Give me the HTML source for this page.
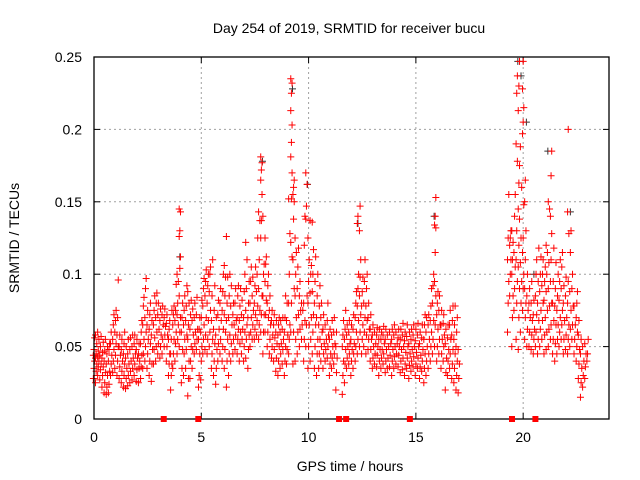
<!DOCTYPE html>
<html><head><meta charset="utf-8"><style>
body{margin:0;background:#fff}
svg{display:block;font-family:"Liberation Sans",sans-serif}
</style></head><body>
<svg id="c" width="640" height="480" xmlns="http://www.w3.org/2000/svg">
<rect width="640" height="480" fill="#fff"/>
<text x="349" y="33" font-size="14" text-anchor="middle">Day 254 of 2019, SRMTID for receiver bucu</text>
<text transform="translate(19,238) rotate(-90)" font-size="14" text-anchor="middle">SRMTID / TECUs</text>
<text x="350" y="471" font-size="14" text-anchor="middle">GPS time / hours</text>
<g id="grid"></g>
<g id="ticks"></g>
<g id="pts"></g>
<rect x="94" y="57" width="515" height="362" fill="none" stroke="#000" stroke-width="1.3"/>
</svg>
<script>
const xTicks=[0,5,10,15,20];
const yTicks=[0,0.05,0.1,0.15,0.2,0.25];
const yTickLabels=["0","0.05","0.1","0.15","0.2","0.25"];
const markerHours=[3.25,4.86,11.42,11.75,14.72,19.48,20.57];
const binTimes=[0.0,0.1,0.2,0.3,0.4,0.5,0.6,0.7,0.8,0.9,1.0,1.1,1.2,1.3,1.4,1.5,1.6,1.7,1.8,1.9,2.0,2.1,2.2,2.3,2.4,2.5,2.6,2.7,2.8,2.9,3.0,3.1,3.2,3.3,3.4,3.5,3.6,3.7,3.8,3.9,4.0,4.1,4.2,4.3,4.4,4.5,4.6,4.7,4.8,4.9,5.0,5.1,5.2,5.3,5.4,5.5,5.6,5.7,5.8,5.9,6.0,6.1,6.2,6.3,6.4,6.5,6.6,6.7,6.8,6.9,7.0,7.1,7.2,7.3,7.4,7.5,7.6,7.7,7.8,7.9,8.0,8.1,8.2,8.3,8.4,8.5,8.6,8.7,8.8,8.9,9.0,9.1,9.2,9.3,9.4,9.5,9.6,9.7,9.8,9.9,10.0,10.1,10.2,10.3,10.4,10.5,10.6,10.7,10.8,10.9,11.0,11.1,11.2,11.3,11.6,11.7,11.8,11.9,12.0,12.1,12.2,12.3,12.4,12.5,12.6,12.7,12.8,12.9,13.0,13.1,13.2,13.3,13.4,13.5,13.6,13.7,13.8,13.9,14.0,14.1,14.2,14.3,14.4,14.5,14.6,14.7,14.8,14.9,15.0,15.1,15.2,15.3,15.4,15.5,15.6,15.7,15.8,15.9,16.0,16.1,16.2,16.3,16.4,16.5,16.6,16.7,16.8,16.9,17.0,19.3,19.4,19.5,19.6,19.7,19.8,19.9,20.0,20.1,20.2,20.3,20.4,20.5,20.6,20.7,20.8,20.9,21.0,21.1,21.2,21.3,21.4,21.5,21.6,21.7,21.8,21.9,22.0,22.1,22.2,22.3,22.4,22.5,22.6,22.7,22.8,22.9,23.0];
const binValues=[
[28,35,40,44,48,56],[25,33,38,42,45,52,58],[30,36,40,43,47,55,60],[27,34,38,44,50,57],[22,30,36,42,46,53],[18,25,32,40,47,55],[17,22,30,38,45,50],[18,24,33,40,48,52],[30,38,44,52,60],[32,40,48,55,65,72],
[35,44,52,60,68,75],[30,40,50,58,70,96],[28,36,44,50,58],[25,33,40,48,55],[22,30,38,45,52,60],[21,28,35,42,50],[23,30,38,45,55],[25,33,40,48,56],[27,35,42,50,58],[30,38,45,52,58],
[26,34,42,48,55],[25,35,40,45,52],[28,36,44,52,60,68],[35,45,55,65,78,84],[40,50,60,70,90,97],[35,45,55,65,75],[30,40,52,62,72,80],[26,38,48,58,68],[38,48,56,65,75,85],[40,50,60,70,80,87],
[45,52,62,72,80],[42,50,58,68,76],[45,55,65,72,78],[50,58,64,70,76],[40,50,58,66,72],[30,38,45,55,62,68],[20,30,38,45,55,75],[35,45,55,65,72,78],[40,52,60,68,75,93],[45,55,65,72,80,95,100],
[50,60,70,85,104,112,126,130,143,145],[25,35,48,60,70,80],[30,45,55,65,75,85],[35,48,58,68,78,92],[16,28,40,55,65,80,88],[28,40,50,62,72,82],[35,48,58,68,76],[45,52,60,70,80],[48,55,62,72,84],[22,30,45,55,62,70],
[27,40,50,60,70,82],[45,55,65,78,90,97],[48,58,70,85,95,103],[45,55,68,80,92,100],[50,60,75,88,100,105],[35,45,55,68,85,110],[30,40,52,62,75,92],[24,35,48,58,70],[40,52,62,72,82],[45,55,68,80,90],
[40,50,62,75,88,100],[35,48,60,72,85,98,106],[22,40,55,68,80,98,126],[30,45,58,70,85,100],[40,52,65,78,92],[45,55,65,72,80],[48,58,68,80,90],[45,55,62,70,85,92],[40,52,60,68,78,90],[45,55,62,72,82],
[40,50,60,70,88,100],[42,55,65,75,90,110,122],[35,48,58,70,80,95],[50,60,70,80,95,105],[55,65,75,85,98],[55,62,72,80,92,105],[58,68,78,88,100,125],[55,65,75,90,110,137,143],[60,72,85,125,137,155,165,172,177,181],[45,60,72,85,100,107,140],
[60,72,82,95,107,112,125],[50,60,70,80,92,100],[45,55,65,75,85],[42,50,58,68,75],[40,48,56,65,72],[33,42,52,60,68],[30,40,50,58,65,70],[35,45,52,60,68],[38,48,55,62,70],[30,40,50,60,70,85],
[38,48,58,68,80],[45,55,65,80,100,128,152],[60,80,112,122,152,170,181,191,203,213,225,232,235],[38,60,90,110,138,150,155,160,165],[40,55,70,85,100,115,125],[45,60,72,90,105,118],[50,62,75,85,95],[55,65,75,80],[40,55,68,80,120,140],[50,65,85,138,147,162,170],
[35,50,65,80,95,110,125],[40,55,70,87,100,106,137],[45,60,72,88,100,117,136],[35,50,65,80,95,112],[30,45,55,70,85,100],[35,45,55,65,78,92],[40,50,60,70,80],[35,45,52,62,72],[40,48,55,65],[42,50,58,68,80],
[30,38,45,55,62],[35,42,50,58,68],[38,45,52,60,70],[20,32,42,50,60],[17,30,40,50,58,68],[25,38,48,55,62,75],[35,42,50,58,65],[38,45,52,60,68],
[30,40,48,55,65],[35,45,52,62,72],[40,50,60,70,80,88],[45,55,68,78,90,100,135,140],[50,60,72,85,98,110,130,147],[45,55,65,78,88,98],[50,60,70,80,95,110],[45,58,68,78,90,100],[48,55,62,70,80],[40,48,55,62,72],
[35,42,50,58,65],[38,45,52,60],[36,44,50,58,63],[30,40,48,55,62],[35,42,48,55,60],[38,45,52,58,64],[32,40,48,55,62],[35,42,50,58],[36,44,52,60],[30,40,48,55,62],
[35,43,50,58,65],[38,45,52,60],[36,44,50,56,62],[32,40,48,55,62],[34,42,50,58,66],[30,38,46,54,60],[35,42,50,57,65],[28,37,45,52,60],[33,40,48,55,62],[36,43,50,58,65],
[30,38,46,54,62],[35,42,50,58,66],[28,36,44,52,60],[33,40,48,56,65],[25,35,45,55,65,72],[30,40,50,60,70],[35,45,55,65,72],[40,50,60,68,78,90],[45,55,68,80,92,100],[50,65,85,95,115,132,134,140,153],
[40,50,62,72,80,88],[45,55,65,75,85],[35,45,55,65,75],[40,50,58,66,72],[20,32,42,52,62],[30,40,48,56,65],[35,45,55,65,75],[28,38,48,58,68,78],[25,35,45,55,65,78],[20,30,40,50,60,70],[18,28,38,48],
[60,80,95,110,125,155],[85,100,110,120,125,130],[50,70,85,100,110,122,130],[75,90,105,115,140,155],[55,80,95,110,130,178,190,225,237],[48,70,90,105,120,138,145,163,175,213,230,247],[60,80,95,108,125,160,188],
[75,90,100,115,125,148,197,205,215,228,247],[55,70,80,90,110,130,150,165],[50,62,75,85,100],[50,60,70,80,90],[48,58,68,80,95],[45,55,62,72,82],[50,60,72,85,100,110],[45,55,68,80,95,118],[50,62,75,88,100,112],[55,68,80,92,100,110],
[45,58,70,82,95,105],[48,60,75,88,100,115,120],[50,62,78,90,108,145,150],[55,65,80,95,110,128,140,168,185],[45,55,68,80,95,118],[40,52,65,78,90,108],[45,55,65,75,85,100],[50,60,70,82,95,110],[55,65,75,90,105,115],[45,55,68,80,92],
[48,58,70,85,98],[45,55,65,80,95,128,143,200],[50,62,75,88,115,130],[55,65,78,90,100],[45,55,65,78],[40,50,60,70,80,88],[28,38,48,58,68],[15,25,35,45,55],[22,30,40,50],[28,36,45,52],[40,45,55]
];
const grayTimes=[19.75,19.9,20.15,7.85,9.25,12.3,15.85,21.15,9.95,4.0,22.2,20.5];
const grayValues=[247,237,205,178,228,135,140,185,162,112,143,100];

const NS="http://www.w3.org/2000/svg";
const L=94,R=609,T=57,B=419;
function sx(h){return L+(h/24)*(R-L);}
function sy(v){return B-(v/0.25)*(B-T);}
function mk(tag,attrs,parent){const e=document.createElementNS(NS,tag);for(const k in attrs)e.setAttribute(k,attrs[k]);parent.appendChild(e);return e;}
const grid=document.getElementById('grid'),ticks=document.getElementById('ticks'),pts=document.getElementById('pts'),svg=document.getElementById('c');
xTicks.forEach(t=>{
  const x=sx(t);
  if(t>0){const g=mk('line',{x1:x,x2:x,y1:T,y2:B,stroke:'#a0a0a0','stroke-dasharray':'2,3'},grid);
  
  }
  mk('line',{x1:x,x2:x,y1:B,y2:B-6,stroke:'#000'},ticks);
  mk('line',{x1:x,x2:x,y1:T,y2:T+6,stroke:'#000'},ticks);
  const tx=mk('text',{x:x,y:B+23,'font-size':14,'text-anchor':'middle'},svg);
  tx.textContent=t;
  
  
});
yTicks.forEach((v,i)=>{
  const y=sy(v);
  if(i>0&&i<yTicks.length-1){const g=mk('line',{x1:L,x2:R,y1:y,y2:y,stroke:'#a0a0a0','stroke-dasharray':'2,3'},grid);
  
  }
  mk('line',{x1:L,x2:L+6,y1:y,y2:y,stroke:'#000'},ticks);
  mk('line',{x1:R,x2:R-6,y1:y,y2:y,stroke:'#000'},ticks);
  const tx=mk('text',{x:L-12,y:y+5,'font-size':14,'text-anchor':'end'},svg);
  tx.textContent=yTickLabels[i];
  
  
});
function plus(h,v,col){
  const x=sx(h),y=sy(v);
  const p=mk('path',{d:`M${x-3.5},${y}h7M${x},${y-3.5}v7`,stroke:col,'stroke-width':1,fill:'none'},pts);
  
  
}
grayTimes.forEach((t,i)=>plus(t,grayValues[i]/1000,'#333'));
binTimes.forEach((t,i)=>{
  const vs=binValues[i];
  vs.forEach((v,j)=>{plus(t+(j%3-1)*0.03,v/1000,'#f00');});
});
markerHours.forEach(h=>{
  const r=mk('rect',{x:sx(h)-3,y:B-3,width:6,height:6,fill:'#f00'},svg);
  
  
});
</script>
</body></html>
